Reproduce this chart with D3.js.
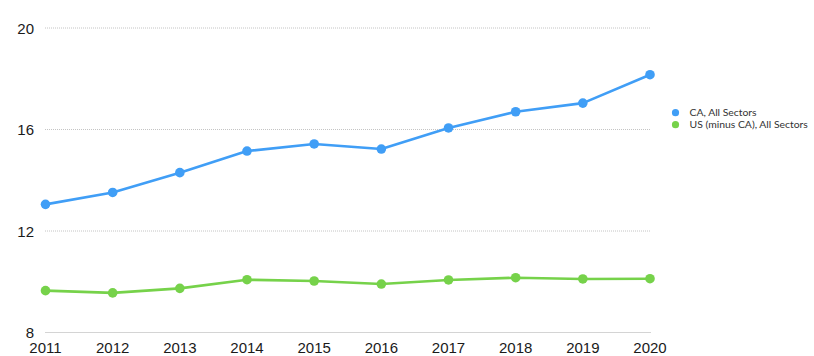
<!DOCTYPE html>
<html><head><meta charset="utf-8">
<script src="https://cdn.jsdelivr.net/npm/d3@7"></script>
<style>
html,body{margin:0;padding:0;background:#fff;}
svg{display:block;}
</style></head>
<body>
<svg id="chart" width="814" height="356"></svg>
<script>
const years = [2011,2012,2013,2014,2015,2016,2017,2018,2019,2020];
const caAllSectors = [13.05,13.52,14.30,15.15,15.43,15.23,16.06,16.70,17.04,18.16];
const usMinusCaAllSectors = [9.65,9.56,9.74,10.08,10.03,9.91,10.07,10.16,10.11,10.12];
const yTicks = [8,12,16,20];
const seriesNames = ["CA, All Sectors","US (minus CA), All Sectors"];
const seriesColors = ["#409ef6","#76d24a"];

const svg = d3.select("#chart");
const x = d3.scaleLinear().domain([2011,2020]).range([45.5,650]);
const y = d3.scaleLinear().domain([8,20]).range([332.5,28]);

// gridlines
svg.append("g").selectAll("line").data(yTicks.filter(t=>t!==8)).join("line")
  .attr("x1",45).attr("x2",651)
  .attr("y1",d=>y(d)).attr("y2",d=>y(d))
  .attr("stroke","#c4c4c4").attr("stroke-width",1).attr("stroke-dasharray","1,1");
svg.append("line").attr("x1",45).attr("x2",651).attr("y1",y(8)).attr("y2",y(8))
  .attr("stroke","#d4d4d4").attr("stroke-width",1.2);

// y labels
svg.append("g").selectAll("text").data(yTicks).join("text")
  .attr("x",34).attr("y",d=>y(d)+5.5).attr("text-anchor","end")
  .attr("font-family","Liberation Sans, Arial, sans-serif").attr("font-size",15)
  .attr("fill","#1a1a1a").text(d=>d);

// x labels
svg.append("g").selectAll("text").data(years).join("text")
  .attr("x",d=>x(d)).attr("y",352.5).attr("text-anchor","middle")
  .attr("font-family","Liberation Sans, Arial, sans-serif").attr("font-size",15)
  .attr("fill","#1a1a1a").text(d=>d);

const series = [caAllSectors, usMinusCaAllSectors];
const line = d3.line().x((d,i)=>x(years[i])).y(d=>y(d));
series.forEach((s,k)=>{
  svg.append("path").datum(s).attr("d",line).attr("fill","none")
    .attr("stroke",seriesColors[k]).attr("stroke-width",2.6).attr("stroke-linejoin","round");
  svg.append("g").selectAll("circle").data(s).join("circle")
    .attr("cx",(d,i)=>x(years[i])).attr("cy",d=>y(d)).attr("r",4.8)
    .attr("fill",seriesColors[k]);
});

// legend
const lg = svg.append("g");
seriesNames.forEach((n,k)=>{
  const yy = 112.7 + k*12;
  lg.append("circle").attr("cx",675.5).attr("cy",yy).attr("r",3.6).attr("fill",seriesColors[k]);
  lg.append("text").attr("x",689.5).attr("y",yy+3.6)
    .attr("font-family","Lato, Open Sans, sans-serif").attr("font-size",10.4)
    .attr("fill","#333").text(n);
});
</script>
</body></html>
